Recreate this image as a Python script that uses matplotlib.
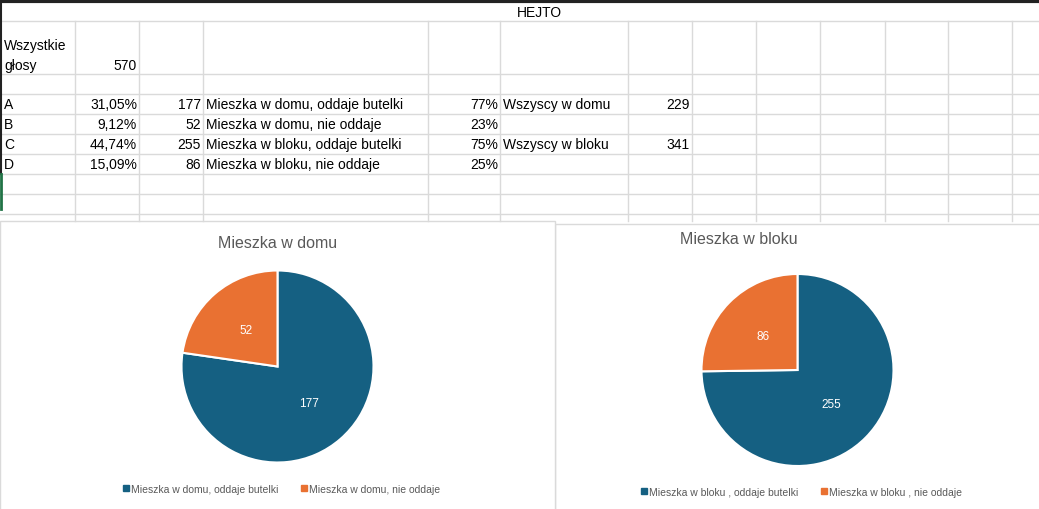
import matplotlib.pyplot as plt
from matplotlib.patches import Rectangle
from matplotlib.lines import Line2D

# dane z arkusza
wszystkie = 570
litery = ["A", "B", "C", "D"]
procenty = ["31,05%", "9,12%", "44,74%", "15,09%"]
glosy = [177, 52, 255, 86]
opisy = ["Mieszka w domu, oddaje butelki", "Mieszka w domu, nie oddaje",
         "Mieszka w bloku, oddaje butelki", "Mieszka w bloku, nie oddaje"]
udzialy = ["77%", "23%", "75%", "25%"]
sumy_nazwy = ["Wszyscy w domu", "Wszyscy w bloku"]
sumy = [229, 341]

dom = [177, 52]
blok = [255, 86]
dom_legenda = ["Mieszka w domu, oddaje butelki", "Mieszka w domu, nie oddaje"]
blok_legenda = ["Mieszka w bloku , oddaje butelki", "Mieszka w bloku , nie oddaje"]

niebieski = "#156082"
pomaranczowy = "#E97132"
szary = "#595959"
siatka = "#dadada"

W, H = 1039, 510
fig = plt.figure(figsize=(W / 100, H / 100), dpi=100)
plt.rcParams['font.family'] = ['Liberation Sans', 'DejaVu Sans']

bg = fig.add_axes([0, 0, 1, 1])
bg.set_xlim(0, W)
bg.set_ylim(H, 0)
bg.axis("off")

# siatka arkusza
kolumny = [75, 139, 203, 428, 500, 628, 692, 756, 820, 885, 948, 1012]
wiersze = [22, 75, 95, 115, 135, 155, 175, 195, 215]
for y in wiersze:
    bg.plot([0, W], [y, y], color=siatka, lw=1)
for x in kolumny:
    bg.plot([x, x], [22, 222], color=siatka, lw=1)
bg.plot([0, W], [1.5, 1.5], color="#222222", lw=3)
bg.plot([0.5, 0.5], [0, 175], color="#222222", lw=1.5)
bg.plot([0.8, 0.8], [175, 210], color="#217346", lw=2)

fs = 10
bg.text(539, 13, "HEJTO", ha="center", va="center", fontsize=fs)
bg.text(4, 46, "Wszystkie", va="center", fontsize=fs)
bg.text(4, 66, "głosy", va="center", fontsize=fs)
bg.text(137, 66, str(wszystkie), ha="right", va="center", fontsize=fs)
for i in range(4):
    y = 105 + 20 * i
    bg.text(4, y, litery[i], va="center", fontsize=fs)
    bg.text(137, y, procenty[i], ha="right", va="center", fontsize=fs)
    bg.text(201, y, str(glosy[i]), ha="right", va="center", fontsize=fs)
    bg.text(206, y, opisy[i], va="center", fontsize=fs)
    bg.text(498, y, udzialy[i], ha="right", va="center", fontsize=fs)
for i in range(2):
    y = 105 + 40 * i
    bg.text(503, y, sumy_nazwy[i], va="center", fontsize=fs)
    bg.text(690, y, str(sumy[i]), ha="right", va="center", fontsize=fs)

# ramki wykresow
bg.add_patch(Rectangle((555, 225), 490, 290, facecolor="white", edgecolor=siatka, lw=1))
bg.add_patch(Rectangle((0, 222), 555, 292, facecolor="white", edgecolor=siatka, lw=1))

bg.text(278, 244, "Mieszka w domu", ha="center", va="center", fontsize=11.5, color=szary)
bg.text(739, 240, "Mieszka w bloku", ha="center", va="center", fontsize=11.5, color=szary)


def rysuj_pie(cx, cy, wartosci, etykiety, lx, ly):
    r = 96
    ax = fig.add_axes([(cx - r) / W, (H - cy - r) / H, 2 * r / W, 2 * r / H])
    total = sum(wartosci)
    ax.pie(wartosci, colors=[niebieski, pomaranczowy], startangle=90, counterclock=False,
           radius=1, autopct=lambda p: f"{round(p * total / 100)}", pctdistance=0.5,
           wedgeprops=dict(edgecolor="white", linewidth=1.5),
           textprops=dict(color="white", fontsize=8.5))
    ax.set_xlim(-1, 1)
    ax.set_ylim(-1, 1)
    uchwyty = [Line2D([], [], marker="s", ls="", color=c, markersize=4)
               for c in [niebieski, pomaranczowy]]
    fig.legend(uchwyty, etykiety, loc="center", bbox_to_anchor=(lx / W, 1 - ly / H),
               ncol=2, frameon=False, fontsize=7.5, labelcolor=szary,
               handletextpad=0.1, columnspacing=2.0, handlelength=0.8)


rysuj_pie(277.5, 367.5, dom, dom_legenda, 281, 490)
rysuj_pie(797.5, 371, blok, blok_legenda, 801, 493)

fig.savefig("out.png", dpi=100)
